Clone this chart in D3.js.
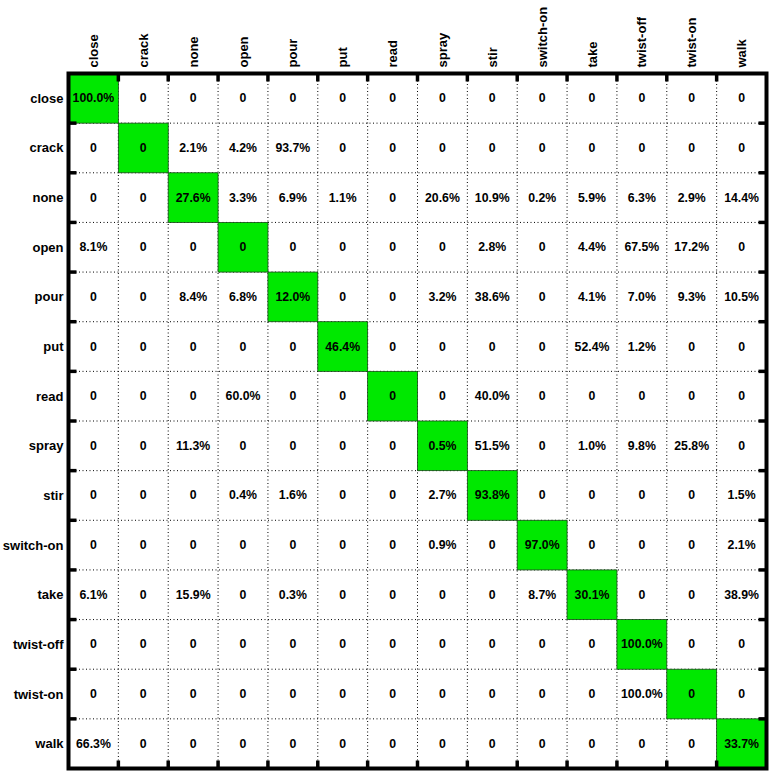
<!DOCTYPE html>
<html><head><meta charset="utf-8">
<script src="https://cdn.jsdelivr.net/npm/d3@7"></script>
<style>body{margin:0;background:#fff}svg{display:block}text{font-family:"Liberation Sans",Arial,sans-serif;font-weight:bold}</style>
</head><body>
<script>
const classes = ["close","crack","none","open","pour","put","read","spray","stir","switch-on","take","twist-off","twist-on","walk"];
const rowClose    = [100.0,0,0,0,0,0,0,0,0,0,0,0,0,0];
const rowCrack    = [0,0,2.1,4.2,93.7,0,0,0,0,0,0,0,0,0];
const rowNone     = [0,0,27.6,3.3,6.9,1.1,0,20.6,10.9,0.2,5.9,6.3,2.9,14.4];
const rowOpen     = [8.1,0,0,0,0,0,0,0,2.8,0,4.4,67.5,17.2,0];
const rowPour     = [0,0,8.4,6.8,12.0,0,0,3.2,38.6,0,4.1,7.0,9.3,10.5];
const rowPut      = [0,0,0,0,0,46.4,0,0,0,0,52.4,1.2,0,0];
const rowRead     = [0,0,0,60.0,0,0,0,0,40.0,0,0,0,0,0];
const rowSpray    = [0,0,11.3,0,0,0,0,0.5,51.5,0,1.0,9.8,25.8,0];
const rowStir     = [0,0,0,0.4,1.6,0,0,2.7,93.8,0,0,0,0,1.5];
const rowSwitchOn = [0,0,0,0,0,0,0,0.9,0,97.0,0,0,0,2.1];
const rowTake     = [6.1,0,15.9,0,0.3,0,0,0,0,8.7,30.1,0,0,38.9];
const rowTwistOff = [0,0,0,0,0,0,0,0,0,0,0,100.0,0,0];
const rowTwistOn  = [0,0,0,0,0,0,0,0,0,0,0,100.0,0,0];
const rowWalk     = [66.3,0,0,0,0,0,0,0,0,0,0,0,0,33.7];
const matrix = [rowClose,rowCrack,rowNone,rowOpen,rowPour,rowPut,rowRead,rowSpray,rowStir,rowSwitchOn,rowTake,rowTwistOff,rowTwistOn,rowWalk];

const W=771,H=775;
const L=68.5,T=73.5,R=766.5,B=768.5;
const svg=d3.select("body").append("svg").attr("width",W).attr("height",H);
const x=d3.scaleBand().domain(classes).range([L,R]);
const y=d3.scaleBand().domain(classes).range([T,B]);
const bw=x.bandwidth(), bh=y.bandwidth();

// grid (dotted)
const g=svg.append("g");
classes.slice(1).forEach(c=>{
  g.append("line").attr("x1",x(c)).attr("x2",x(c)).attr("y1",T).attr("y2",B)
    .attr("stroke","#000").attr("stroke-width",1).attr("stroke-dasharray","1,2.5");
  g.append("line").attr("y1",y(c)).attr("y2",y(c)).attr("x1",L).attr("x2",R)
    .attr("stroke","#000").attr("stroke-width",1).attr("stroke-dasharray","1,2.5");
});

// diagonal cells
svg.append("g").selectAll("rect").data(classes).join("rect")
  .attr("x",d=>x(d)).attr("y",d=>y(d)).attr("width",bw).attr("height",bh)
  .attr("fill","#00e800").attr("stroke","#1a4a1a").attr("stroke-width",0.8);

// values
const cells=[];
matrix.forEach((row,i)=>row.forEach((v,j)=>cells.push({r:classes[i],c:classes[j],v})));
svg.append("g").selectAll("text").data(cells).join("text")
  .attr("x",d=>x(d.c)+bw/2).attr("y",d=>y(d.r)+bh/2)
  .attr("text-anchor","middle").attr("dominant-baseline","central")
  .attr("font-size",12.3).attr("fill","#000")
  .text(d=>d.v===0?"0":d.v.toFixed(1)+"%");

// axes frame and ticks
const frame=svg.append("g");
frame.append("rect").attr("x",L).attr("y",T).attr("width",R-L).attr("height",B-T)
  .attr("fill","none").attr("stroke","#000").attr("stroke-width",4);
classes.slice(1).forEach(c=>{
  const xv=x(c), yv=y(c);
  frame.append("line").attr("x1",xv).attr("x2",xv).attr("y1",T).attr("y2",T+8).attr("stroke","#000").attr("stroke-width",3.5);
  frame.append("line").attr("x1",xv).attr("x2",xv).attr("y1",B).attr("y2",B-8).attr("stroke","#000").attr("stroke-width",3.5);
  frame.append("line").attr("y1",yv).attr("y2",yv).attr("x1",L).attr("x2",L+8).attr("stroke","#000").attr("stroke-width",3.5);
  frame.append("line").attr("y1",yv).attr("y2",yv).attr("x1",R).attr("x2",R-8).attr("stroke","#000").attr("stroke-width",3.5);
});

// column labels (rotated)
svg.append("g").selectAll("text").data(classes).join("text")
  .attr("transform",d=>`translate(${x(d)+bw/2},${T-6}) rotate(-90)`)
  .attr("text-anchor","start").attr("dominant-baseline","central")
  .attr("font-size",13).attr("fill","#000").text(d=>d);

// row labels
svg.append("g").selectAll("text").data(classes).join("text")
  .attr("x",L-5).attr("y",d=>y(d)+bh/2)
  .attr("text-anchor","end").attr("dominant-baseline","central")
  .attr("font-size",13).attr("fill","#000").text(d=>d);
</script>
</body></html>
